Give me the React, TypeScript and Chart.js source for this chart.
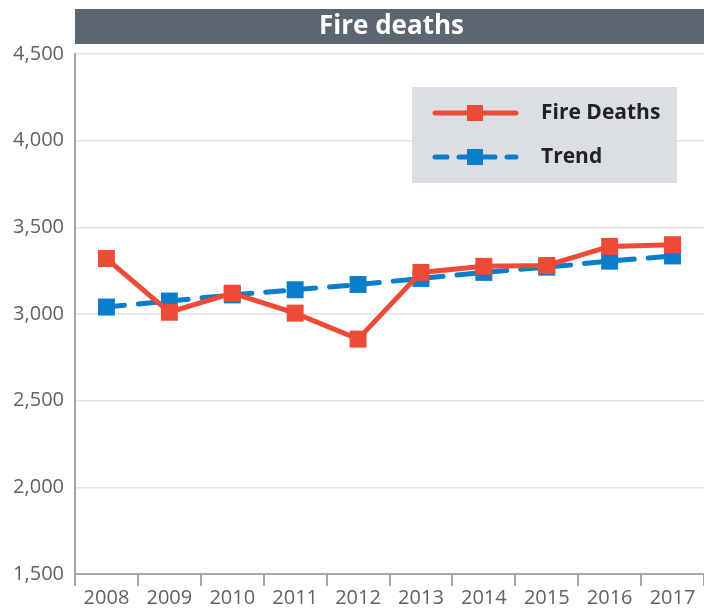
import React, { useEffect, useRef } from "react";
import { Chart, registerables } from "chart.js";

Chart.register(...registerables);

const years = ["2008", "2009", "2010", "2011", "2012", "2013", "2014", "2015", "2016", "2017"];
const fireDeaths = [3320, 3010, 3120, 3005, 2855, 3240, 3275, 3280, 3390, 3400];
const trend = [3040, 3075, 3110, 3140, 3170, 3205, 3240, 3270, 3305, 3335];
const titleText = "Fire deaths";
const legendLabels = ["Fire Deaths", "Trend"];

const RED = "#ee4b37";
const BLUE = "#0a7ecb";
const AXIS = "#a3a7ab";
const TICK = "#5d6369";
const FONT = "'Open Sans', 'Noto Sans', sans-serif";

const decorPlugin = {
  id: "decor",
  afterDraw(chart: any) {
    const ctx = chart.ctx;
    const area = chart.chartArea;
    ctx.save();
    ctx.fillStyle = "#5b6670";
    ctx.fillRect(area.left, 9, 704 - area.left, 35);
    ctx.fillStyle = "#ffffff";
    ctx.font = `bold 26px ${FONT}`;
    ctx.textAlign = "center";
    ctx.textBaseline = "middle";
    ctx.fillText(titleText, (area.left + 704) / 2 + 2, 27);
    ctx.restore();
  },
  afterDatasetsDraw(chart: any) {
    const ctx = chart.ctx;
    ctx.save();
    ctx.fillStyle = "#dcdfe2";
    ctx.fillRect(412, 87, 265, 96);
    const rows = [
      { y: 113, color: RED, dash: [] as number[], label: legendLabels[0] },
      { y: 157, color: BLUE, dash: [12, 12], label: legendLabels[1] },
    ];
    rows.forEach((r) => {
      ctx.strokeStyle = r.color;
      ctx.lineWidth = 5;
      ctx.lineCap = "round";
      ctx.setLineDash(r.dash);
      ctx.beginPath();
      ctx.moveTo(435, r.y);
      ctx.lineTo(516, r.y);
      ctx.stroke();
      ctx.setLineDash([]);
      ctx.fillStyle = r.color;
      ctx.fillRect(475 - 8, r.y - 8, 16, 16);
      ctx.fillStyle = "#222222";
      ctx.font = `bold 21px ${FONT}`;
      ctx.textAlign = "left";
      ctx.textBaseline = "middle";
      ctx.fillText(r.label, 541, r.y);
    });
    ctx.restore();
  },
};

export default function App() {
  const ref = useRef<HTMLCanvasElement | null>(null);
  useEffect(() => {
    if (!ref.current) return;
    const chart = new Chart(ref.current, {
      type: "line",
      data: {
        labels: years,
        datasets: [
          {
            label: legendLabels[0],
            data: fireDeaths,
            borderColor: RED,
            backgroundColor: RED,
            borderWidth: 5,
            pointStyle: "rect",
            pointRadius: 12,
            pointBorderWidth: 0,
            pointBackgroundColor: RED,
            tension: 0,
          },
          {
            label: legendLabels[1],
            data: trend,
            borderColor: BLUE,
            backgroundColor: BLUE,
            borderWidth: 5,
            borderDash: [18, 14],
            borderCapStyle: "round",
            pointStyle: "rect",
            pointRadius: 12,
            pointBorderWidth: 0,
            pointBackgroundColor: BLUE,
            tension: 0,
          },
        ],
      },
      options: {
        responsive: false,
        animation: false,
        devicePixelRatio: 1,
        layout: { autoPadding: false, padding: { top: 54, left: 0, right: 0, bottom: 0 } },
        plugins: {
          legend: { display: false },
          title: { display: false },
          tooltip: { enabled: false },
        },
        scales: {
          x: {
            type: "category",
            offset: true,
            grid: {
              offset: true,
              drawOnChartArea: false,
              drawTicks: true,
              tickLength: 12,
              color: AXIS,
              lineWidth: 2,
            },
            border: { display: true, color: AXIS, width: 2 },
            ticks: {
              color: TICK,
              font: { family: FONT, size: 20 },
              padding: 0,
              maxRotation: 0,
              autoSkip: false,
            },
            afterFit(scale: any) {
              scale.height = 40;
            },
          },
          y: {
            min: 1500,
            max: 4500,
            grid: { color: "#e0e2e4", lineWidth: 1.5, drawTicks: false },
            border: { display: true, color: AXIS, width: 2 },
            ticks: {
              stepSize: 500,
              color: TICK,
              font: { family: FONT, size: 20 },
              padding: 11,
              callback: (v: any) => Number(v).toLocaleString("en-US"),
            },
            afterFit(scale: any) {
              scale.width = 75;
            },
          },
        },
      },
      plugins: [decorPlugin],
    });
    return () => chart.destroy();
  }, []);
  return (
    <div style={{ position: "fixed", left: 0, top: 0, width: 704, height: 614, background: "#ffffff" }}>
      <canvas ref={ref} width={704} height={614} style={{ display: "block" }} />
    </div>
  );
}
